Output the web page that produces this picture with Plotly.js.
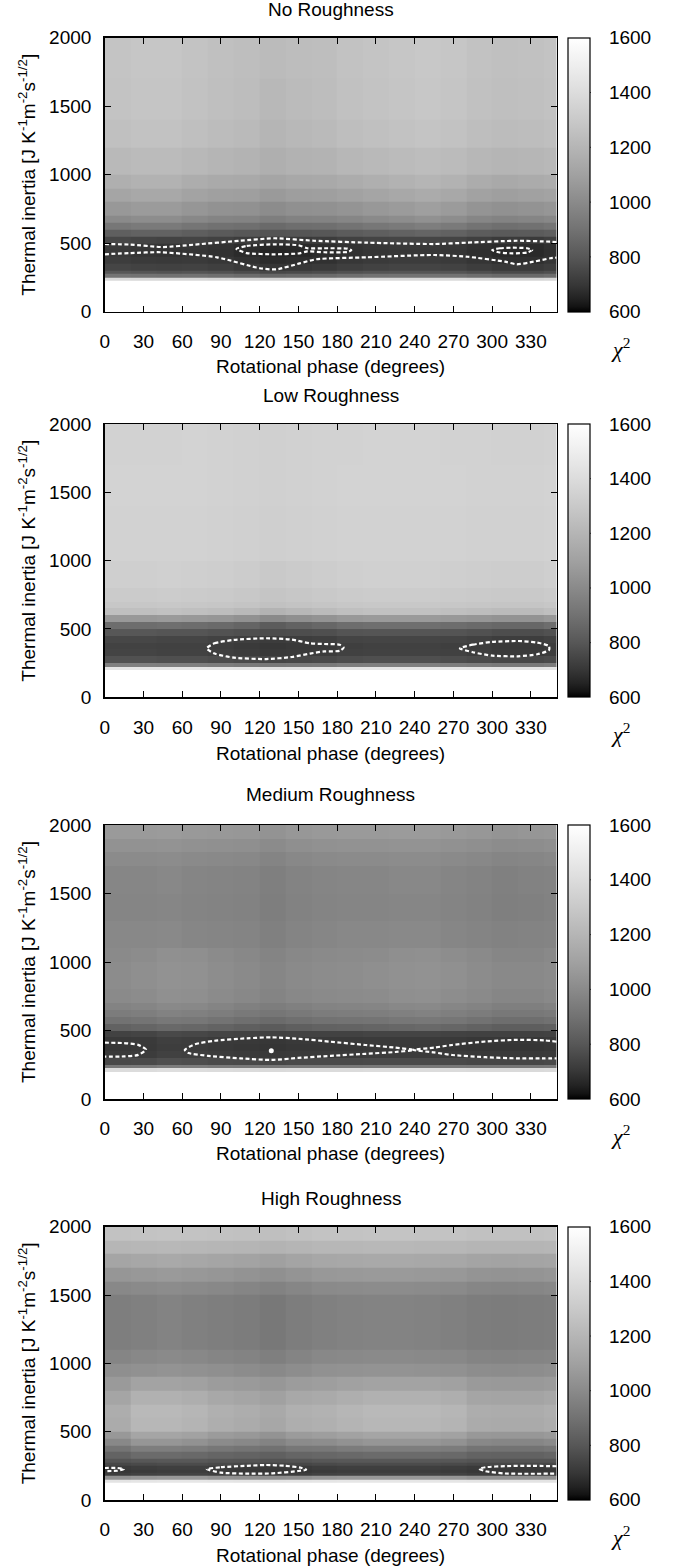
<!DOCTYPE html>
<html>
<head>
<meta charset="utf-8">
<script src="https://cdn.plot.ly/plotly-3.0.1.min.js"></script>
<style>html,body{margin:0;padding:0;background:#fff;}#chart{width:675px;height:1566px;}</style>
</head>
<body>
<div id="chart"></div>
<script>
// ---------------- DATA ----------------
const panelTitles = ["No Roughness", "Low Roughness", "Medium Roughness", "High Roughness"];
const phaseTicks = [0,30,60,90,120,150,180,210,240,270,300,330];
const inertiaTicks = [0,500,1000,1500,2000];
const chi2Ticks = [600,800,1000,1200,1400,1600];
const phaseEdges = [0,20,40,60,80,100,120,140,160,180,200,220,240,260,280,300,320,340,350];

// Panel 1: No Roughness
const inertiaEdges1 = [0,225,250,275,300,350,400,450,500,550,600,650,700,800,900,1000,1200,1400,1700,2000];
const chi2NoRough = [
 [1700,1700,1700,1700,1700,1700,1700,1700,1700,1700,1700,1700,1700,1700,1700,1700,1700,1700],
 [1390,1380,1380,1380,1370,1360,1350,1360,1370,1380,1390,1390,1390,1390,1380,1370,1370,1380],
 [910,900,895,900,890,875,860,865,875,890,900,905,905,900,885,870,870,885],
 [800,790,785,790,780,765,750,755,765,780,790,795,795,790,775,760,760,775],
 [745,735,730,735,725,710,695,700,710,725,735,740,740,735,720,705,705,720],
 [720,710,705,710,700,685,670,675,685,700,710,715,715,710,695,680,680,695],
 [705,695,690,695,685,670,655,660,670,685,695,700,700,695,680,665,665,680],
 [710,700,695,700,690,675,660,665,675,690,700,705,705,700,685,670,670,685],
 [750,740,735,740,730,715,700,705,715,730,740,745,745,740,725,710,710,725],
 [830,840,840,825,810,800,790,795,800,820,830,840,850,840,820,810,815,825],
 [920,935,935,912,895,890,870,885,890,905,920,935,950,935,905,890,898,912],
 [1000,1015,1015,992,975,970,950,965,970,985,1000,1015,1030,1015,985,970,978,992],
 [1060,1075,1075,1052,1035,1030,1010,1025,1030,1045,1060,1075,1090,1075,1045,1030,1038,1052],
 [1120,1135,1135,1112,1095,1090,1070,1085,1090,1105,1120,1135,1150,1135,1105,1090,1098,1112],
 [1170,1185,1185,1162,1145,1140,1120,1135,1140,1155,1170,1185,1200,1185,1155,1140,1148,1162],
 [1220,1230,1230,1215,1200,1190,1170,1185,1190,1210,1220,1230,1240,1230,1210,1200,1205,1215],
 [1255,1265,1265,1250,1235,1225,1200,1215,1225,1245,1255,1265,1275,1265,1245,1235,1240,1250],
 [1270,1280,1280,1265,1250,1240,1215,1230,1240,1260,1270,1280,1290,1280,1260,1250,1255,1265],
 [1275,1285,1285,1270,1255,1245,1230,1240,1245,1265,1275,1285,1295,1285,1265,1255,1260,1270]
];

// Panel 2: Low Roughness
const inertiaEdges2 = [0,200,225,250,300,350,400,450,500,550,600,650,700,800,1000,1400,1700,2000];
const chi2LowRough = [
 [1700,1700,1700,1700,1700,1700,1700,1700,1700,1700,1700,1700,1700,1700,1700,1700,1700,1700],
 [1450,1450,1450,1450,1445,1440,1430,1435,1440,1450,1450,1450,1450,1450,1445,1440,1440,1445],
 [960,960,955,955,945,935,925,930,935,950,955,955,955,950,940,930,930,940],
 [780,780,775,775,765,755,745,750,755,770,775,775,775,770,760,750,750,760],
 [740,740,735,735,725,715,705,710,715,730,735,735,735,730,720,710,710,720],
 [735,735,730,730,720,710,700,705,710,725,730,730,730,725,715,705,705,715],
 [750,750,745,745,735,725,715,720,725,740,745,745,745,740,730,720,720,730],
 [800,800,795,795,785,775,765,770,775,790,795,795,795,790,780,770,770,780],
 [880,880,890,880,870,850,820,840,860,880,890,890,890,880,870,860,860,880],
 [1060,1060,1070,1060,1050,1030,1000,1020,1040,1060,1070,1070,1070,1060,1050,1040,1040,1060],
 [1250,1250,1260,1250,1240,1220,1190,1210,1230,1250,1260,1260,1260,1250,1240,1230,1230,1250],
 [1290,1290,1295,1290,1285,1275,1260,1270,1280,1290,1295,1295,1295,1290,1285,1280,1280,1290],
 [1310,1310,1315,1310,1305,1295,1280,1290,1300,1310,1315,1315,1315,1310,1305,1300,1300,1310],
 [1330,1330,1335,1330,1325,1315,1300,1310,1320,1330,1335,1335,1335,1330,1325,1320,1320,1330],
 [1345,1345,1348,1345,1342,1338,1330,1335,1340,1345,1348,1348,1348,1345,1342,1340,1340,1345],
 [1350,1350,1352,1350,1348,1342,1335,1340,1345,1350,1352,1352,1352,1350,1348,1345,1345,1350],
 [1345,1345,1348,1350,1345,1340,1335,1340,1345,1348,1350,1350,1350,1348,1345,1342,1342,1345]
];

// Panel 3: Medium Roughness
const inertiaEdges3 = [0,200,225,250,300,350,400,450,500,550,600,650,700,800,900,1000,1100,1300,1500,1700,1800,1900,2000];
const chi2MedRough = [
 [1700,1700,1700,1700,1700,1700,1700,1700,1700,1700,1700,1700,1700,1700,1700,1700,1700,1700],
 [1400,1400,1410,1405,1400,1395,1390,1395,1395,1395,1400,1400,1400,1395,1390,1390,1390,1395],
 [925,930,945,940,930,925,920,925,925,925,930,930,930,925,920,920,920,925],
 [755,760,775,770,760,755,750,755,755,755,760,760,760,755,750,750,750,755],
 [710,715,730,725,715,710,705,710,710,710,715,715,715,710,705,705,705,710],
 [700,705,720,715,705,700,695,700,700,700,705,705,705,700,695,695,695,700],
 [705,710,725,720,710,705,700,705,705,705,710,710,710,705,700,700,700,705],
 [735,740,755,750,740,735,730,735,735,735,740,740,740,735,730,730,730,735],
 [840,850,865,860,845,830,815,830,840,845,850,860,865,855,840,825,825,835],
 [900,910,925,920,905,890,875,890,900,905,910,920,925,915,900,885,885,895],
 [940,950,965,960,945,930,915,930,940,945,950,960,965,955,940,925,925,935],
 [970,980,995,990,975,960,945,960,970,975,980,990,995,985,970,955,955,965],
 [1000,1010,1025,1020,1005,990,975,990,1000,1005,1010,1020,1025,1015,1000,985,985,995],
 [1010,1020,1035,1030,1015,1000,985,1000,1010,1015,1020,1030,1035,1025,1010,995,995,1005],
 [1010,1020,1035,1030,1015,1000,985,1000,1010,1015,1020,1030,1035,1025,1010,995,995,1005],
 [1000,1010,1025,1020,1005,990,975,990,1000,1005,1010,1020,1025,1015,1000,985,985,995],
 [990,990,995,985,980,975,960,975,985,990,990,995,995,985,975,965,970,975],
 [980,980,985,975,970,965,950,965,975,980,980,985,985,975,965,955,960,965],
 [985,985,990,980,975,970,955,970,980,985,985,990,990,980,970,960,965,970],
 [1005,1005,1010,1000,995,990,975,990,1000,1005,1005,1010,1010,1000,990,980,985,990],
 [1035,1035,1040,1030,1025,1020,1005,1020,1030,1035,1035,1040,1040,1030,1020,1010,1015,1020],
 [1070,1070,1075,1065,1060,1055,1040,1055,1065,1070,1070,1075,1075,1065,1055,1045,1050,1055]
];

// Panel 4: High Roughness
const inertiaEdges4 = [0,125,150,175,200,225,250,275,300,350,400,450,500,600,700,800,900,1000,1100,1300,1500,1600,1700,1800,1900,2000];
const chi2HighRough = [
 [1700,1700,1700,1700,1700,1700,1700,1700,1700,1700,1700,1700,1700,1700,1700,1700,1700,1700],
 [1440,1450,1455,1455,1450,1445,1440,1445,1450,1455,1455,1455,1455,1450,1445,1440,1440,1440],
 [1030,1050,1060,1060,1040,1030,1020,1030,1050,1060,1060,1060,1060,1050,1030,1030,1030,1030],
 [720,730,735,735,725,720,715,720,730,735,735,735,735,730,720,720,720,720],
 [700,710,715,715,705,700,695,700,710,715,715,715,715,710,700,700,700,700],
 [710,720,725,725,715,710,705,710,720,725,725,725,725,720,710,710,710,710],
 [750,760,765,765,755,750,745,750,760,765,765,765,765,760,750,750,750,750],
 [790,800,805,805,795,790,785,790,800,805,805,805,805,800,790,790,790,790],
 [845,875,875,868,852,845,835,852,858,868,875,875,875,868,845,842,842,850],
 [909,951,951,940,920,909,895,920,926,940,951,951,951,940,909,906,906,916],
 [990,1050,1050,1035,1005,990,970,1005,1015,1035,1050,1050,1050,1035,990,985,985,1000],
 [1060,1120,1120,1105,1075,1060,1040,1075,1085,1105,1120,1120,1120,1105,1060,1055,1055,1070],
 [1150,1210,1210,1195,1165,1150,1130,1165,1175,1195,1210,1210,1210,1195,1150,1145,1145,1160],
 [1160,1220,1220,1205,1175,1160,1140,1175,1185,1205,1220,1220,1220,1205,1160,1155,1155,1170],
 [1120,1180,1180,1165,1135,1120,1100,1135,1145,1165,1180,1180,1180,1165,1120,1115,1115,1130],
 [1069,1111,1111,1100,1080,1069,1055,1080,1086,1100,1111,1111,1111,1100,1069,1066,1066,1076],
 [1020,1030,1040,1030,1020,1010,995,1015,1030,1035,1040,1040,1035,1030,1015,1010,1015,1020],
 [980,990,1000,990,980,970,955,975,990,995,1000,1000,995,990,975,970,975,980],
 [950,960,970,960,950,940,925,945,960,965,970,970,965,960,945,940,945,950],
 [950,960,970,960,950,940,925,945,960,965,970,970,965,960,945,940,945,950],
 [990,1000,1010,1000,990,980,965,985,1000,1005,1010,1010,1005,1000,985,980,985,990],
 [1050,1060,1070,1060,1050,1040,1025,1045,1060,1065,1070,1070,1065,1060,1045,1040,1045,1050],
 [1120,1130,1140,1130,1120,1110,1095,1115,1130,1135,1140,1140,1135,1130,1115,1110,1115,1120],
 [1205,1210,1215,1210,1205,1200,1192,1202,1210,1212,1215,1215,1212,1210,1202,1200,1202,1205],
 [1265,1270,1275,1270,1265,1260,1252,1262,1270,1272,1275,1275,1272,1270,1262,1260,1262,1265]
];

// Contour lines (phase, thermal inertia)
const p1UpperPhase = [0,20,45,70,105,131,162,203,255,281,319,345,350];
const p1UpperTI    = [494,490,472,490,518,536,518,504,494,504,518,511,508];
const p1LowerPhase = [0,20,43,87,120,133,151,164,203,255,281,310,319,332,345,350];
const p1LowerTI    = [419,428,434,397,317,309,353,383,397,414,401,365,346,365,390,395];
const p1InnerAPhase = [102,110,131,150,157,170,188,191,188,170,157,150,131,110,102];
const p1InnerATI    = [458,480,492,485,463,463,460,448,436,434,440,425,419,428,458];
const p1InnerBPhase = [300,306,316,327,331,327,316,306,300];
const p1InnerBTI    = [450,463,467,463,450,432,426,432,450];

const p2LeftPhase = [79,85,100,125,145,159,170,182,185,182,170,159,145,125,100,85,79];
const p2LeftTI    = [358,395,420,432,422,395,390,385,365,340,336,320,295,280,290,320,358];
const p2RightPhase = [275,285,300,320,335,344,344,335,320,300,285,275];
const p2RightTI    = [358,385,405,412,400,375,345,315,300,305,330,358];

const p3LeftPhase = [0,15,26,32,26,15,0];
const p3LeftTI    = [411,408,395,360,322,311,309];
const p3MidPhase = [62,70,85,110,129,150,175,202,225,239,225,202,175,150,129,105,80,65,62];
const p3MidTI    = [358,400,425,443,450,440,418,394,375,358,343,330,315,300,285,297,315,335,358];
const p3RightPhase = [350,340,319,295,269,255,239,255,269,295,319,340,350];
const p3RightTI    = [418,428,432,420,394,375,358,340,321,305,297,297,297];
const p3DotPhase = [129];
const p3DotTI    = [352];

const p4LeftPhase = [0,10,15,10,0];
const p4LeftTI    = [234,234,226,214,212];
const p4MidPhase = [79,90,110,125,140,152,156,150,130,110,90,79];
const p4MidTI    = [226,240,250,256,250,236,222,212,195,193,200,226];
const p4RightPhase = [350,330,310,295,290,295,310,330,350];
const p4RightTI    = [247,250,248,240,228,210,194,192,193];

// ---------------- LAYOUT HELPERS ----------------
const W = 675, H = 1566;
const plotLeft = 104.7, plotRight = 556.7;
const panelTopPx = [37.7, 424, 825, 1226.7];
const panelBotPx = [311.7, 697.3, 1099, 1500];
const titlePx = [9, 395, 795, 1198];
const xTitlePx = [366.7, 753, 1153, 1555];
const chiPx = [347.7, 733.3, 1135, 1536];
const cbLeft = 568.3, cbThick = 22.4;

const FONT = '"Liberation Sans", Arial, Helvetica, sans-serif';
const fs = 19;

// gnuplot grey palette (gamma 1.5)
const grayScale = [
  [0, '#000000'], [0.02, '#131313'], [0.05, '#232323'], [0.1, '#373737'],
  [0.2, '#575757'], [0.3, '#727272'], [0.4, '#8a8a8a'], [0.5, '#a1a1a1'],
  [0.6, '#b5b5b5'], [0.7, '#c9c9c9'], [0.8, '#dcdcdc'], [0.9, '#eeeeee'], [1, '#ffffff']
];

const zs = [chi2NoRough, chi2LowRough, chi2MedRough, chi2HighRough];
const yEdges = [inertiaEdges1, inertiaEdges2, inertiaEdges3, inertiaEdges4];
const contourSets = [
  [[p1UpperPhase,p1UpperTI],[p1LowerPhase,p1LowerTI],[p1InnerAPhase,p1InnerATI],[p1InnerBPhase,p1InnerBTI]],
  [[p2LeftPhase,p2LeftTI],[p2RightPhase,p2RightTI]],
  [[p3LeftPhase,p3LeftTI],[p3MidPhase,p3MidTI],[p3RightPhase,p3RightTI]],
  [[p4LeftPhase,p4LeftTI],[p4MidPhase,p4MidTI],[p4RightPhase,p4RightTI]]
];

const data = [];
const layout = {
  width: W, height: H,
  margin: {l:0, r:0, t:0, b:0},
  paper_bgcolor: '#ffffff', plot_bgcolor: '#ffffff',
  font: {family: FONT, size: fs, color: '#000'},
  showlegend: false,
  annotations: [], shapes: []
};

for (let k = 0; k < 4; k++) {
  const sfx = k === 0 ? '' : String(k + 1);
  const dom = [1 - panelBotPx[k] / H, 1 - panelTopPx[k] / H];
  data.push({
    type: 'heatmap', x: phaseEdges, y: yEdges[k], z: zs[k],
    xaxis: 'x' + sfx, yaxis: 'y' + sfx,
    zmin: 600, zmax: 1600, zsmooth: false, colorscale: grayScale,
    hoverinfo: 'skip',
    showscale: true,
    colorbar: {
      x: cbLeft / W, xanchor: 'left', xpad: 0, ypad: 0,
      y: dom[1], yanchor: 'top',
      len: panelBotPx[k] - panelTopPx[k], lenmode: 'pixels',
      thickness: cbThick, thicknessmode: 'pixels',
      outlinewidth: 1.2, outlinecolor: '#000',
      tickvals: chi2Ticks, ticktext: chi2Ticks.map(String),
      ticks: 'outside', ticklen: 15, tickcolor: 'rgba(0,0,0,0)',
      tickfont: {family: FONT, size: fs, color: '#000'}
    }
  });
  contourSets[k].forEach(c => {
    data.push({
      type: 'scatter', mode: 'lines', x: c[0], y: c[1],
      xaxis: 'x' + sfx, yaxis: 'y' + sfx,
      line: {color: '#ffffff', width: 2.2, dash: '4px,2.5px', shape: 'spline', smoothing: 0.6},
      hoverinfo: 'skip', showlegend: false, cliponaxis: true
    });
  });
  if (k === 2) {
    data.push({
      type: 'scatter', mode: 'markers', x: p3DotPhase, y: p3DotTI,
      xaxis: 'x3', yaxis: 'y3', marker: {color: '#ffffff', size: 5},
      hoverinfo: 'skip', showlegend: false
    });
  }
  const axCommon = {
    showgrid: false, zeroline: false, showline: true, linecolor: '#000', linewidth: 1.5,
    ticks: 'inside', ticklen: 6, tickwidth: 1, tickcolor: '#000', mirror: 'allticks',
    tickfont: {family: FONT, size: fs, color: '#000'}, layer: 'above traces'
  };
  layout['xaxis' + sfx] = Object.assign({}, axCommon, {
    domain: [plotLeft / W, plotRight / W], range: [0, 350], anchor: 'y' + sfx,
    tickmode: 'array', tickvals: phaseTicks, ticktext: phaseTicks.map(String),
    ticklabelstandoff: 12
  });
  layout['yaxis' + sfx] = Object.assign({}, axCommon, {
    domain: dom, range: [0, 2000], anchor: 'x' + sfx,
    tickmode: 'array', tickvals: inertiaTicks, ticktext: inertiaTicks.map(String),
    ticklabelstandoff: 8
  });
  const midX = (plotLeft + plotRight) / 2 / W;
  layout.annotations.push({
    xref: 'paper', yref: 'paper', x: midX, y: 1 - titlePx[k] / H,
    xanchor: 'center', yanchor: 'middle', showarrow: false,
    text: panelTitles[k], font: {family: FONT, size: fs, color: '#000'}
  });
  layout.annotations.push({
    xref: 'paper', yref: 'paper', x: midX, y: 1 - xTitlePx[k] / H,
    xanchor: 'center', yanchor: 'middle', showarrow: false,
    text: 'Rotational phase (degrees)', font: {family: FONT, size: fs, color: '#000'}
  });
  layout.annotations.push({
    xref: 'paper', yref: 'paper', x: 27 / W, y: 1 - (panelTopPx[k] + panelBotPx[k]) / 2 / H,
    xanchor: 'center', yanchor: 'middle', showarrow: false, textangle: -90,
    text: 'Thermal inertia [J K<sup>-1</sup>m<sup>-2</sup>s<sup>-1/2</sup>]',
    font: {family: FONT, size: fs, color: '#000'}
  });
  layout.annotations.push({
    xref: 'paper', yref: 'paper', x: 620 / W, y: 1 - chiPx[k] / H,
    xanchor: 'center', yanchor: 'middle', showarrow: false,
    text: '<i>χ</i><sup>2</sup>',
    font: {family: '"Liberation Serif", "DejaVu Serif", serif', size: 22, color: '#000'}
  });
  // inward tick marks on both sides of the colour bar
  chi2Ticks.slice(1, -1).forEach(v => {
    const yp = dom[0] + (v - 600) / 1000 * (dom[1] - dom[0]);
    layout.shapes.push({type: 'line', xref: 'paper', yref: 'paper',
      x0: cbLeft / W, x1: (cbLeft + 6) / W, y0: yp, y1: yp, line: {color: '#000', width: 1}});
    layout.shapes.push({type: 'line', xref: 'paper', yref: 'paper',
      x0: (cbLeft + cbThick - 6) / W, x1: (cbLeft + cbThick) / W, y0: yp, y1: yp, line: {color: '#000', width: 1}});
  });
}

Plotly.newPlot('chart', data, layout, {staticPlot: true});
</script>
</body>
</html>
